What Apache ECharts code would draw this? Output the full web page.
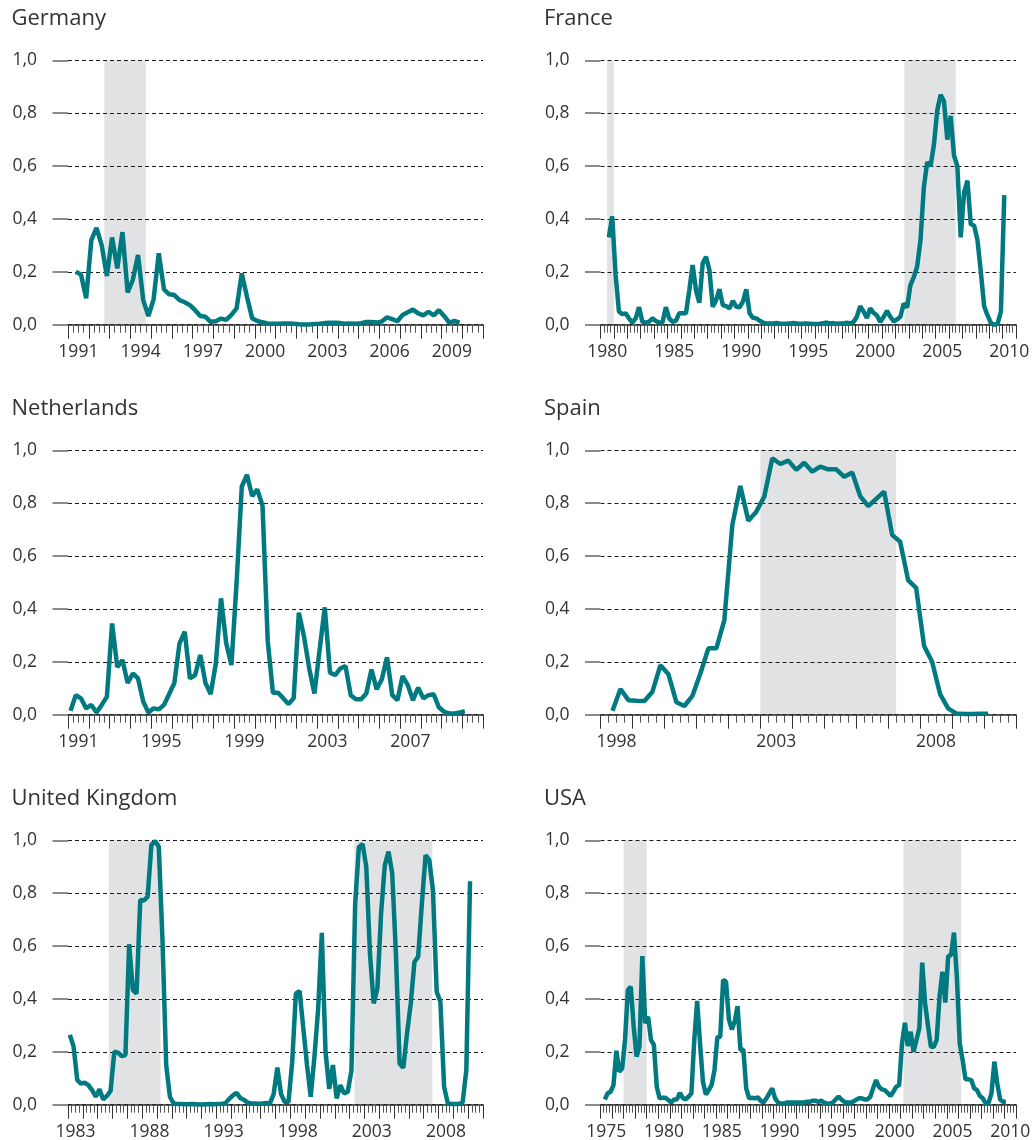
<!DOCTYPE html>
<html><head><meta charset="utf-8">
<script src="https://cdn.jsdelivr.net/npm/echarts@6/dist/echarts.min.js"></script>
<style>html,body{margin:0;padding:0;background:#fff}#c{width:1035px;height:1140px}</style>
</head><body><div id="c"></div>
<script>
// ---- data ----
const yTicks = [0, 0.2, 0.4, 0.6, 0.8, 1.0];

const germanyName = 'Germany';
const germanyYears = [1991, 2010];
const germanyLabelStep = 3;
const germanyStart = [1991, 2];
const germanyValues = [0.20,0.19,0.10,0.32,0.366,0.30,0.184,0.33,0.213,0.35,
 0.122,0.17,0.264,0.093,0.033,0.096,0.27,0.134,0.115,0.112,
 0.093,0.085,0.074,0.055,0.033,0.03,0.011,0.013,0.023,0.018,
 0.037,0.062,0.194,0.106,0.024,0.014,0.009,
 0.005,0.004,0.004,0.005,0.005,0.004,0.002,0.001,0.001,0.003,
 0.004,0.006,0.007,0.007,0.006,0.004,0.005,0.004,0.006,0.01,
 0.01,0.008,0.012,0.028,0.021,0.013,0.037,0.047,0.057,0.043,
 0.035,0.049,0.035,0.055,0.033,0.008,0.014,0.008];
const germanyShades = [[1992.75, 1994.75]];

const franceName = 'France';
const franceYears = [1980, 2010];
const franceLabelStep = 5;
const franceStart = [1980, 3];
const franceValues = [0.33,0.41,0.19,0.05,0.04,0.043,0.024,0.008,0.024,0.066,
 0.011,0.008,0.011,0.024,0.014,0.008,0.008,0.066,0.024,0.011,
 0.015,0.043,0.043,0.043,0.13,0.226,0.13,0.083,0.232,0.257,
 0.207,0.068,0.093,0.134,0.074,0.07,0.062,0.09,0.068,0.066,
 0.087,0.134,0.043,0.026,0.024,0.015,0.008,0.005,0.005,0.005,
 0.007,0.005,0.004,0.004,0.005,0.006,0.005,0.004,0.004,0.005,
 0.004,0.003,0.003,0.004,0.006,0.008,0.005,0.006,0.004,0.005,
 0.005,0.008,0.005,0.01,0.03,0.07,0.05,0.025,0.062,0.045,
 0.035,0.01,0.03,0.052,0.03,0.012,0.02,0.03,0.08,0.065,
 0.15,0.18,0.22,0.32,0.52,0.615,0.60,0.68,0.81,0.87,
 0.845,0.70,0.79,0.64,0.60,0.33,0.50,0.545,0.38,0.375,
 0.32,0.20,0.07,0.035,0.007,0.0,0.003,0.05,0.49];
const franceShades = [[1980.5, 1981.0], [2002.67, 2006.5]];

const netherlandsName = 'Netherlands';
const netherlandsYears = [1991, 2010];
const netherlandsLabelStep = 4;
const netherlandsStart = [1991, 1];
const netherlandsValues = [0.015,0.074,0.062,0.024,0.037,0.008,0.037,0.068,0.345,0.18,
 0.207,0.12,0.156,0.137,0.05,0.008,0.024,0.02,0.037,0.078,
 0.12,0.27,0.314,0.137,0.15,0.226,0.12,0.078,0.194,0.44,
 0.27,0.188,0.5,0.863,0.907,0.827,0.852,0.79,0.28,0.083,
 0.083,0.062,0.04,0.062,0.386,0.295,0.175,0.08,0.245,0.406,
 0.159,0.15,0.175,0.184,0.074,0.058,0.058,0.08,0.171,0.096,
 0.134,0.217,0.074,0.055,0.146,0.112,0.055,0.102,0.062,0.074,
 0.077,0.028,0.011,0.005,0.005,0.008,0.013];
const netherlandsShades = [];

const spainName = 'Spain';
const spainYears = [1998, 2010];
const spainLabelStep = 5;
const spainStart = [1998, 2];
const spainValues = [0.015,0.097,0.055,0.053,0.052,0.087,0.187,0.153,0.047,0.033,
 0.071,0.156,0.251,0.251,0.358,0.718,0.865,0.734,0.768,0.825,
 0.970,0.948,0.961,0.926,0.953,0.919,0.938,0.928,0.928,0.900,
 0.916,0.827,0.789,0.816,0.844,0.680,0.654,0.509,0.480,0.260,
 0.200,0.078,0.024,0.005,0.003,0.003,0.004,0.004];
const spainShades = [[2003.0, 2007.25]];

const ukName = 'United Kingdom';
const ukYears = [1983, 2010];
const ukLabelStep = 5;
const ukStart = [1983, 1];
const ukValues = [0.264,0.22,0.093,0.08,0.083,0.074,0.055,0.03,0.058,0.02,
 0.033,0.053,0.20,0.197,0.184,0.188,0.607,0.434,0.42,0.774,
 0.772,0.787,0.982,0.997,0.976,0.623,0.15,0.03,0.005,0.003,
 0.003,0.002,0.002,0.003,0.002,0.001,0.001,0.002,0.003,0.002,
 0.003,0.004,0.006,0.022,0.035,0.045,0.025,0.018,0.008,0.005,
 0.005,0.004,0.005,0.006,0.005,0.04,0.14,0.04,0.01,0.01,
 0.16,0.42,0.43,0.29,0.15,0.03,0.18,0.36,0.65,0.20,
 0.06,0.15,0.024,0.074,0.043,0.049,0.13,0.76,0.974,0.986,
 0.90,0.57,0.383,0.44,0.725,0.906,0.957,0.875,0.57,0.156,
 0.14,0.27,0.383,0.54,0.56,0.76,0.944,0.925,0.81,0.427,
 0.39,0.068,0.005,0.003,0.003,0.003,0.008,0.13,0.845];
const ukShades = [[1985.75, 1989.25], [2002.33, 2007.58]];

const usaName = 'USA';
const usaYears = [1975, 2010];
const usaLabelStep = 5;
const usaStart = [1975, 2];
const usaValues = [0.02,0.043,0.049,0.074,0.204,0.125,0.137,0.245,0.434,0.446,
 0.295,0.182,0.22,0.562,0.308,0.333,0.245,0.226,0.068,0.024,
 0.026,0.026,0.018,0.008,0.02,0.02,0.045,0.026,0.02,0.03,
 0.043,0.245,0.393,0.232,0.087,0.039,0.055,0.074,0.131,0.255,
 0.257,0.472,0.465,0.323,0.285,0.314,0.373,0.207,0.209,0.062,
 0.024,0.026,0.024,0.028,0.015,0.008,0.024,0.043,0.062,0.024,
 0.008,0.005,0.005,0.008,0.008,0.008,0.008,0.008,0.008,0.008,
 0.011,0.011,0.015,0.015,0.011,0.015,0.008,0.005,0.003,0.008,
 0.02,0.03,0.02,0.011,0.008,0.008,0.011,0.018,0.024,0.024,
 0.02,0.02,0.03,0.062,0.093,0.068,0.058,0.055,0.045,0.033,
 0.049,0.068,0.074,0.232,0.31,0.222,0.276,0.20,0.245,0.289,
 0.537,0.383,0.298,0.219,0.219,0.245,0.409,0.503,0.386,0.562,
 0.566,0.651,0.484,0.232,0.169,0.096,0.096,0.093,0.062,0.055,
 0.033,0.024,0.005,0.008,0.043,0.163,0.081,0.02,0.011,0.011];
const usaShades = [[1977.0, 1979.0], [2001.25, 2006.25]];

// ---- layout / style ----
const FONT = 'Open Sans';
const TEXT = '#333333';
const LINE = '#007a80';
const SHADE = '#e1e2e4';
const colLeft = [68, 600.5];
const colWidth = [415, 415.5];
const rowTop = [60.3, 450.3, 840.3];
const plotH = 264.4;

const panels = [
  {name: germanyName, years: germanyYears, step: germanyLabelStep, start: germanyStart, values: germanyValues, shades: germanyShades, col: 0, row: 0},
  {name: franceName, years: franceYears, step: franceLabelStep, start: franceStart, values: franceValues, shades: franceShades, col: 1, row: 0},
  {name: netherlandsName, years: netherlandsYears, step: netherlandsLabelStep, start: netherlandsStart, values: netherlandsValues, shades: netherlandsShades, col: 0, row: 1},
  {name: spainName, years: spainYears, step: spainLabelStep, start: spainStart, values: spainValues, shades: spainShades, col: 1, row: 1},
  {name: ukName, years: ukYears, step: ukLabelStep, start: ukStart, values: ukValues, shades: ukShades, col: 0, row: 2},
  {name: usaName, years: usaYears, step: usaLabelStep, start: usaStart, values: usaValues, shades: usaShades, col: 1, row: 2}
];

const option = {animation: false, title: [], grid: [], xAxis: [], yAxis: [], series: []};

panels.forEach((p, k) => {
  const left = colLeft[p.col], top = rowTop[p.row];
  option.title.push({
    text: p.name, left: left - 56.5, top: top - 53, padding: 0,
    textStyle: {fontFamily: FONT, fontSize: 22, fontWeight: 'normal', color: TEXT}
  });
  option.grid.push({left: left, top: top, width: colWidth[p.col], height: plotH, containLabel: false, outerBoundsMode: 'none'});
  const yearList = [];
  for (let y = p.years[0]; y <= p.years[1]; y++) yearList.push(String(y));
  option.xAxis.push({
    gridIndex: k, type: 'value', position: 'bottom', min: p.years[0], max: p.years[1] + 1, interval: 1,
    axisLine: {show: true, lineStyle: {color: '#2b2b2b', width: 1.5}},
    axisTick: {show: true, length: 14, lineStyle: {color: '#333', width: 1}},
    minorTick: {show: true, splitNumber: 4, length: 8, lineStyle: {color: '#555', width: 1}},
    axisLabel: {show: false}, splitLine: {show: false}, minorSplitLine: {show: false}, z: 2
  });
  option.xAxis.push({
    gridIndex: k, type: 'category', position: 'bottom', data: yearList, boundaryGap: true,
    axisLine: {show: false}, axisTick: {show: false}, splitLine: {show: false},
    axisLabel: {interval: p.step - 1, margin: 18, fontFamily: FONT, fontSize: 17.5, color: TEXT}, z: 2
  });
  option.yAxis.push({
    gridIndex: k, type: 'value', min: yTicks[0], max: yTicks[yTicks.length - 1], interval: 0.2,
    axisLine: {show: false},
    axisTick: {show: true, length: 15.5, lineStyle: {color: '#8a8a8a', width: 2}},
    axisLabel: {margin: 31, fontFamily: FONT, fontSize: 17.5, color: TEXT,
      formatter: v => v.toFixed(1).replace('.', ',')},
    splitLine: {show: true, lineStyle: {color: '#1a1a1a', width: 1, type: [4, 3]}}, z: 2
  });
  option.series.push({
    type: 'custom', xAxisIndex: 2 * k, yAxisIndex: k, z: 1, silent: true,
    data: p.shades, encode: {x: [0, 1]},
    renderItem: (params, api) => {
      const a = api.coord([api.value(0), 1]);
      const b = api.coord([api.value(1), 0]);
      return {type: 'rect', shape: {x: a[0], y: a[1], width: b[0] - a[0], height: b[1] - a[1]}, style: {fill: SHADE}};
    }
  });
  const base = p.start[0] + (p.start[1] - 0.5) / 4;
  option.series.push({
    type: 'line', xAxisIndex: 2 * k, yAxisIndex: k, z: 3, clip: false,
    showSymbol: false, symbol: 'none', silent: true,
    lineStyle: {color: LINE, width: 4.5},
    data: p.values.map((v, i) => [base + i / 4, v])
  });
});

const chart = echarts.init(document.getElementById('c'), null, {renderer: 'canvas'});
chart.setOption(option);
</script></body></html>
